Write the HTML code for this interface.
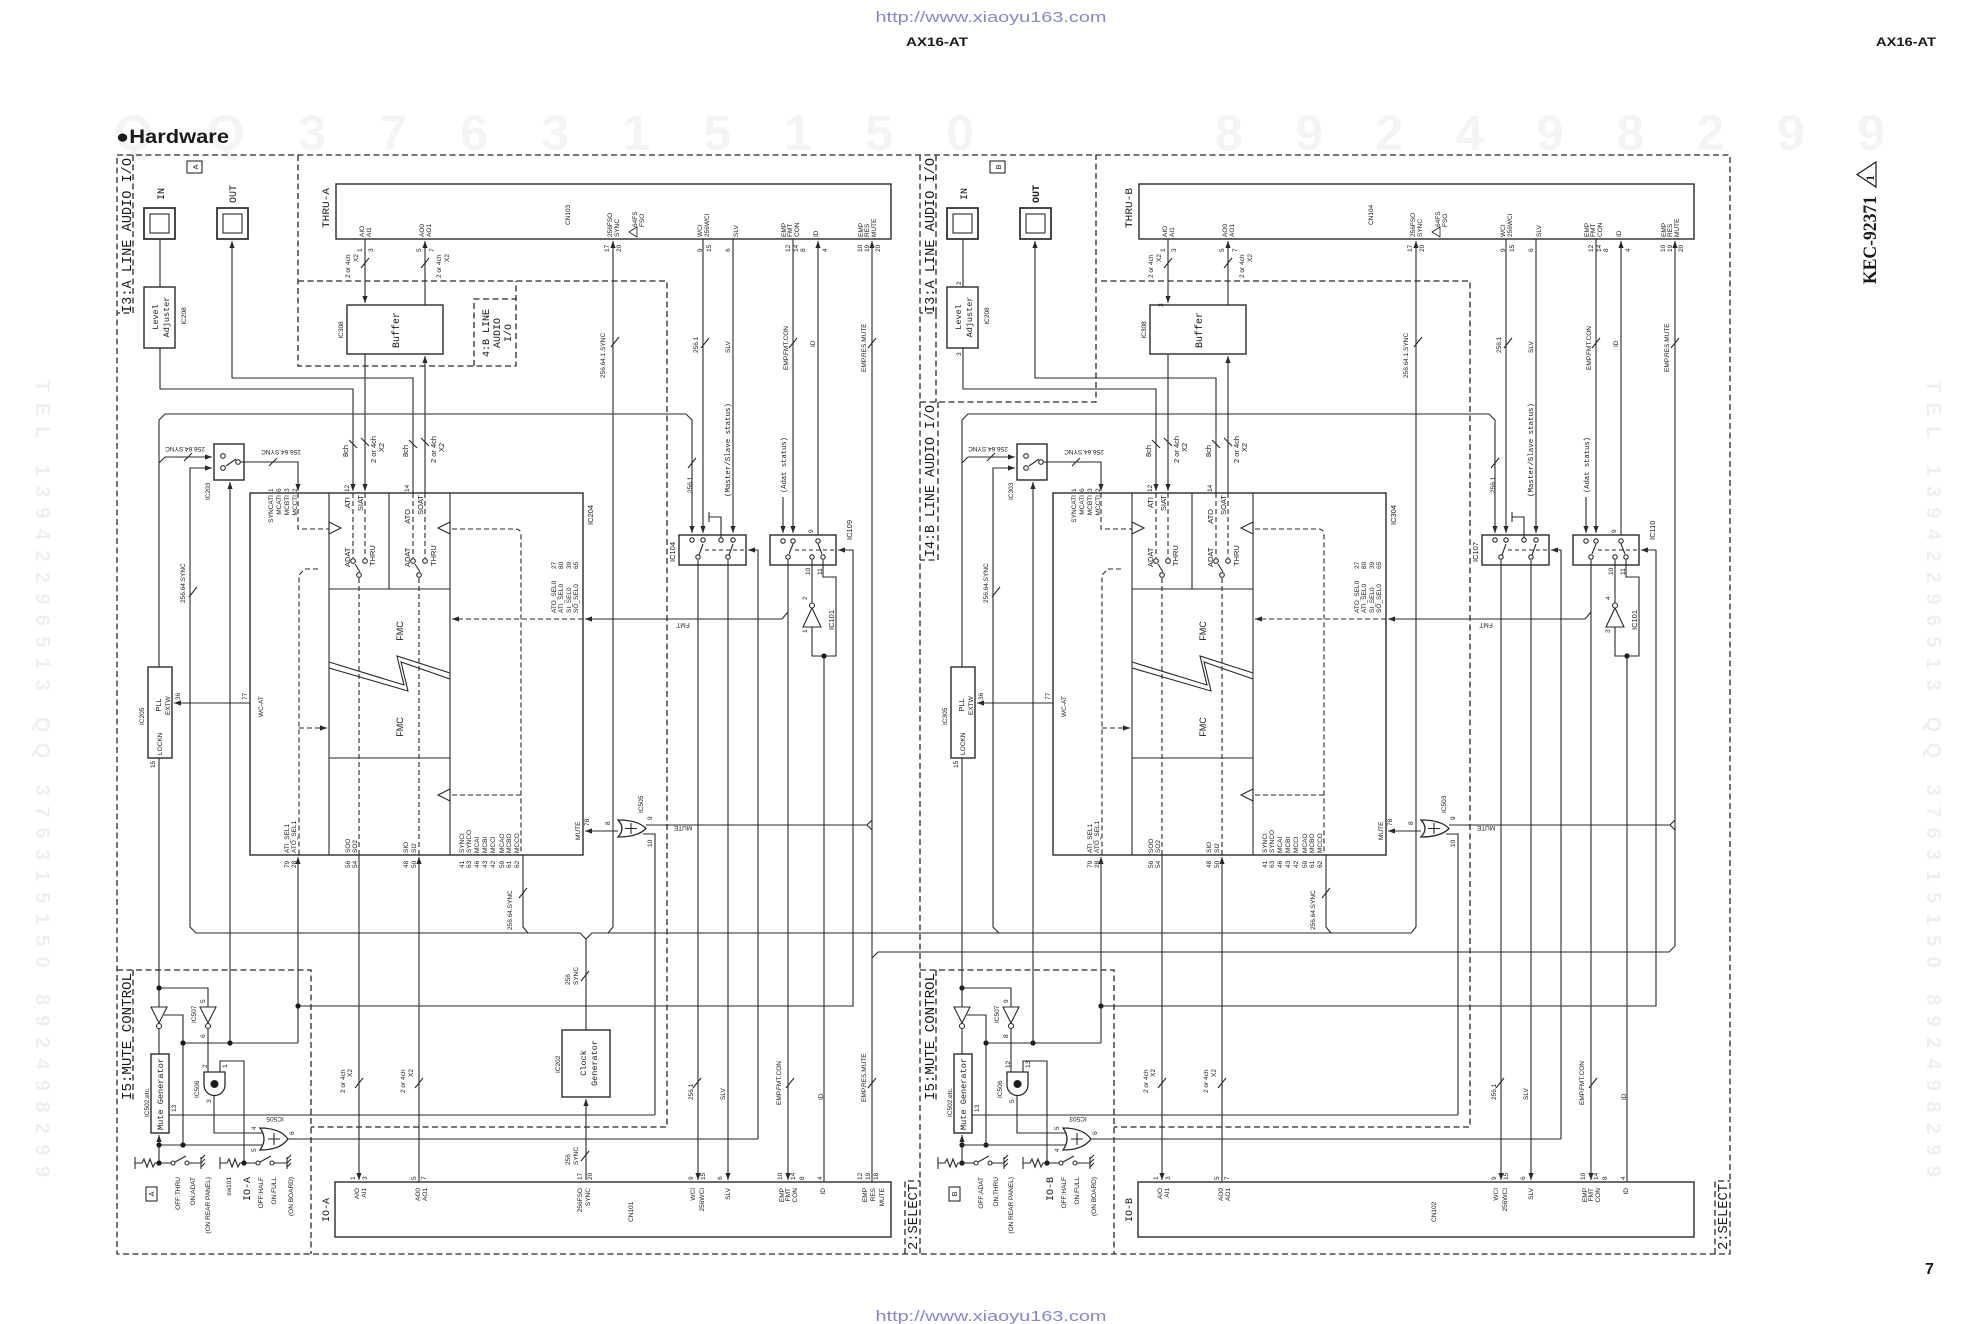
<!DOCTYPE html>
<html><head><meta charset="utf-8">
<style>
html,body{margin:0;padding:0;background:#fff;}
svg{display:block;}
text{fill:#1a1a1a;font-family:"Liberation Sans",sans-serif;}
.s{font-size:6.5px;}
.s7{font-size:7.5px;}
.s9{font-size:9px;}
.m{font-family:"Liberation Mono",monospace;font-size:8.5px;}
.m7{font-family:"Liberation Mono",monospace;font-size:7.4px;}
.m10{font-family:"Liberation Mono",monospace;font-size:10px;}
.L{font-family:"Liberation Mono",monospace;font-size:13.5px;}
</style></head><body>
<svg width="1985" height="1324" viewBox="0 0 1985 1324">
<defs>
<marker id="ar" viewBox="0 0 7 7" refX="7" refY="3.5" markerWidth="7" markerHeight="7" markerUnits="userSpaceOnUse" orient="auto"><path d="M0,0.9L7,3.5L0,6.1z" fill="#2a2a2a"/></marker>
</defs>
<rect width="1985" height="1324" fill="#fff"/>

<!-- faint watermark digits -->
<text x="114" y="150" textLength="860" lengthAdjust="spacing" style="font-size:50px;font-weight:bold;fill:#f4f4f4">Q Q 3 7 6 3 1 5 1 5 0</text>
<text x="1215" y="150" textLength="670" lengthAdjust="spacing" style="font-size:50px;font-weight:bold;fill:#f4f4f4">8 9 2 4 9 8 2 9 9</text>
<g transform="rotate(90)">
<text x="380" y="-36" textLength="797" lengthAdjust="spacing" style="font-size:20px;font-weight:bold;fill:#efefef">TEL 13942296513 QQ 376315150 892498299</text>
<text x="380" y="-1927" textLength="797" lengthAdjust="spacing" style="font-size:20px;font-weight:bold;fill:#efefef">TEL 13942296513 QQ 376315150 892498299</text>
</g>

<!-- headers -->
<text x="991" y="22" text-anchor="middle" textLength="231" lengthAdjust="spacingAndGlyphs" style="font-size:15px;fill:#8585dc">http://www.xiaoyu163.com</text>
<text x="991" y="1321" text-anchor="middle" textLength="231" lengthAdjust="spacingAndGlyphs" style="font-size:15px;fill:#8585dc">http://www.xiaoyu163.com</text>
<text x="906" y="46" font-size="12" font-weight="bold" textLength="62" lengthAdjust="spacingAndGlyphs">AX16-AT</text>
<text x="1876" y="46" font-size="12" font-weight="bold" textLength="60" lengthAdjust="spacingAndGlyphs">AX16-AT</text>
<text x="116" y="143" font-size="19" font-weight="bold" textLength="113" lengthAdjust="spacingAndGlyphs">●Hardware</text>
<text x="1925" y="1274" font-size="16" font-weight="bold">7</text>
<g transform="rotate(-90)">
<text x="-284" y="1876" style="font-family:'Liberation Serif',serif;font-weight:bold;font-size:19px" textLength="88" lengthAdjust="spacingAndGlyphs">KEC-92371</text>
<text x="-178" y="1874" text-anchor="middle" style="font-family:'Liberation Serif',serif;font-weight:bold;font-size:12px">1</text>
</g>
<polygon points="1857,174.5 1876,162 1876,187" fill="none" stroke="#1a1a1a" stroke-width="1.2"/>

<!-- ===== common half geometry ===== -->
<g id="H" fill="none" stroke="#2a2a2a" stroke-width="1.1">
<rect x="187" y="161" width="15" height="12"/>
<rect x="144" y="208" width="31" height="31" stroke-width="1.7"/>
<rect x="150" y="214" width="19" height="19"/>
<rect x="217" y="208" width="31" height="31" stroke-width="1.7"/>
<rect x="223" y="214" width="19" height="19"/>
<rect x="144" y="287" width="31" height="61" stroke-width="1.4"/>
<path d="M160,239V287"/>
<path d="M160,348V389H353V491" marker-end="url(#ar)"/>
<path d="M413,493V378H232V241" marker-end="url(#ar)"/>
<rect x="336" y="184" width="555" height="55" stroke-width="1.4"/>
<rect x="347" y="305" width="96" height="49" stroke-width="1.4"/>
<path d="M365,239V303" marker-end="url(#ar)"/>
<path d="M425,305V241" marker-end="url(#ar)"/>
<path d="M365,354V491" marker-end="url(#ar)"/>
<path d="M425,493V356" marker-end="url(#ar)"/>
<path d="M361,268l8,-10M421,268l8,-10M349,440l8,8M361,438l8,8M409,440l8,8M421,438l8,8"/>
<path d="M611,347l8,-10M701,348l8,-10M789,348l8,-10M868,348l8,-10M688,468l8,-10M189,597l8,-10M519,898l8,-10M184,461l8,-8M269,466l8,-8"/>
<path d="M355,1088l8,-10M415,1088l8,-10M693,1088l8,-10M786,1088l8,-10"/>
<!-- 414 loop -->
<path d="M159,667V420L165,414H686L692,420V533" marker-end="url(#ar)"/>
<!-- IC203 -->
<rect x="214" y="444" width="30" height="36" stroke-width="1.4"/>
<path d="M159,463L165,457H212" marker-end="url(#ar)"/>
<path d="M196,933L190,927V468H212" marker-end="url(#ar)"/>
<path d="M239,462H298V491" marker-end="url(#ar)"/>
<path d="M230,1043V482" marker-end="url(#ar)"/>
<path d="M226,466L236,459"/>
<circle cx="223" cy="456" r="2.3" fill="#fff"/><circle cx="223" cy="468" r="2.3" fill="#fff"/><circle cx="238" cy="462" r="2.3" fill="#fff"/>
<!-- IC204 -->
<rect x="250" y="493" width="333" height="362" stroke-width="1.4"/>
<path d="M329,493V855M389,493V589M450,493V855M329,589H450M329,758H450"/>
<path d="M329,662L404,685L397,656L450,673M329,668L408,691L401,662L450,679"/>
<g stroke-dasharray="5,3">
<path d="M298,493V529H329"/>
<path d="M353,493V558M365,493V558M413,493V558M425,493V558"/>
<path d="M359,578V855M419,578V855"/>
<path d="M318,569H305L299,575V855M299,728H322"/>
<path d="M452,529H515Q521,529 521,535V855M452,795H521"/>
<path d="M583,619H457"/>
</g>
<path d="M322,728h5" marker-end="url(#ar)"/>
<path d="M457,619h-5" marker-end="url(#ar)"/>
<polygon points="329,522 341,528 329,534"/>
<polygon points="450,522 438,528 450,534"/>
<polygon points="450,789 438,795 450,801"/>
<path d="M360,572L355,564M420,572L415,564"/>
<circle cx="353" cy="561" r="2.3" fill="#fff"/><circle cx="365" cy="561" r="2.3" fill="#fff"/><circle cx="359" cy="575" r="2.3" fill="#fff"/>
<circle cx="413" cy="561" r="2.3" fill="#fff"/><circle cx="425" cy="561" r="2.3" fill="#fff"/><circle cx="419" cy="575" r="2.3" fill="#fff"/>
<path d="M359,855V1180" marker-end="url(#ar)"/>
<path d="M419,1182V857" marker-end="url(#ar)"/>
<path d="M523,855V927L528,933"/>
<path d="M613,927V241" marker-end="url(#ar)"/>
<path d="M613,927L608,933"/>
<!-- PLL -->
<rect x="148" y="667" width="24" height="91" stroke-width="1.4"/>
<path d="M250,703H174" marker-end="url(#ar)"/>
<path d="M159,758V1007M159,988H208V1007"/>
<!-- verticals -->
<path d="M703,239V533" marker-end="url(#ar)"/>
<path d="M733,239V533" marker-end="url(#ar)"/>
<path d="M793,239V533" marker-end="url(#ar)"/>
<path d="M818,535V241" marker-end="url(#ar)"/>
<path d="M872,946V241" marker-end="url(#ar)"/>
<path d="M783,497V533" marker-end="url(#ar)"/>
<path d="M698,560V1180" marker-end="url(#ar)"/>
<path d="M728,560V1180" marker-end="url(#ar)"/>
<path d="M788,560V1180" marker-end="url(#ar)"/>
<path d="M824,656V1182"/>
<path d="M758,1139V550H748" marker-end="url(#ar)"/>
<path d="M298,1043V857" marker-end="url(#ar)"/>
<path d="M298,1006H853V550H838" marker-end="url(#ar)"/>
<!-- IC104 -->
<rect x="679" y="535" width="67" height="30" stroke-width="1.4"/>
<path d="M709,512V522M709,517H721V538"/>
<path d="M699,555L703,544M729,555L733,544"/>
<path d="M705,550H744" stroke-dasharray="4,3"/>
<circle cx="692" cy="540" r="2.2" fill="#fff"/><circle cx="703" cy="540" r="2.2" fill="#fff"/><circle cx="721" cy="540" r="2.2" fill="#fff"/><circle cx="733" cy="540" r="2.2" fill="#fff"/>
<circle cx="698" cy="557" r="2.2" fill="#fff"/><circle cx="728" cy="557" r="2.2" fill="#fff"/>
<!-- IC109 -->
<rect x="770" y="535" width="66" height="30" stroke-width="1.4"/>
<path d="M789,554L793,544M822,554L818,544"/>
<path d="M795,550H834" stroke-dasharray="4,3"/>
<circle cx="783" cy="541" r="2.2" fill="#fff"/><circle cx="793" cy="541" r="2.2" fill="#fff"/><circle cx="818" cy="541" r="2.2" fill="#fff"/>
<circle cx="788" cy="557" r="2.2" fill="#fff"/><circle cx="812" cy="557" r="2.2" fill="#fff"/><circle cx="823" cy="557" r="2.2" fill="#fff"/>
<!-- IC101 -->
<path d="M812,560V603M812,627V656H836V577H823V560"/>
<polygon points="812,608 803,627 821,627"/>
<circle cx="812" cy="605.5" r="2.5" fill="#fff"/>
<path d="M788,612L782,619H585" marker-end="url(#ar)"/>
<!-- IC505 gate -->
<path d="M618,820Q626,828.5 618,837Q638,837 646,828.5Q638,820 618,820Z" stroke-width="1.3"/>
<path d="M625,828.5H637M631,823V834"/>
<path d="M618,831H585" marker-end="url(#ar)"/>
<path d="M646,825H867M867,825L872,820M867,825L872,830"/>
<path d="M643,834H655V1115"/>
<!-- mute control -->
<polygon points="151,1007 167,1007 159,1023"/>
<circle cx="159" cy="1026" r="2.5" fill="#fff"/>
<polygon points="200,1007 216,1007 208,1023"/>
<circle cx="208" cy="1026" r="2.5" fill="#fff"/>
<path d="M159,1029V1054"/>
<path d="M164,1015H183V1145"/>
<path d="M208,1029V1072"/>
<path d="M220,1072V1061H244V1163"/>
<path d="M204,1072H225V1085A10.5,10.5 0 0 1 204,1085Z" stroke-width="1.3"/>
<circle cx="214.5" cy="1084" r="3.5" fill="#1a1a1a"/>
<path d="M214,1096V1133H262"/>
<rect x="151" y="1054" width="18" height="79" stroke-width="1.4"/>
<path d="M159,1145V1135" marker-end="url(#ar)"/>
<path d="M159,1145H262M159,1145V1163"/>
<path d="M169,1115H655"/>
<path d="M260,1128Q268,1139 260,1150Q280,1150 288,1139Q280,1128 260,1128Z" stroke-width="1.3"/>
<path d="M268,1139H280M274,1133V1145"/>
<path d="M288,1139H758"/>
<path d="M298,1043H183"/>
<!-- switches -->
<path d="M135,1157V1169M135,1163H142l2,-4l3,8l3,-8l3,8l2,-4H171M175,1162L186,1156M189,1163H201M201,1157V1169M201,1159l4,-4M201,1163l4,-4M201,1167l4,-4"/>
<circle cx="173" cy="1163" r="2" fill="#fff"/><circle cx="187" cy="1163" r="2" fill="#fff"/>
<path d="M220,1157V1169M220,1163H227l2,-4l3,8l3,-8l3,8l2,-4H256M260,1162L271,1156M274,1163H287M287,1157V1169M287,1159l4,-4M287,1163l4,-4M287,1167l4,-4"/>
<circle cx="258" cy="1163" r="2" fill="#fff"/><circle cx="272" cy="1163" r="2" fill="#fff"/>
<rect x="146" y="1187" width="11" height="14"/>
<!-- CN bottom -->
<rect x="335" y="1182" width="556" height="55" stroke-width="1.4"/>
<!-- dashed -->
<g stroke-dasharray="6,3.5" stroke-width="1.3">
<path d="M133,155V313H117"/>
<path d="M298,281H667V1127H311"/>
<path d="M117,970H311V1254"/>
<path d="M133,970V1100"/>
</g>
</g>
<g fill="#1a1a1a">
<circle cx="159" cy="988" r="2.6"/><circle cx="298" cy="1006" r="2.6"/><circle cx="230" cy="1043" r="2.6"/><circle cx="183" cy="1043" r="2.6"/>
<circle cx="159" cy="1145" r="2.6"/><circle cx="183" cy="1145" r="2.6"/><circle cx="159" cy="1163" r="2.6"/><circle cx="244" cy="1163" r="2.6"/><circle cx="824" cy="656" r="2.6"/>
<circle cx="962" cy="988" r="2.6"/><circle cx="1101" cy="1006" r="2.6"/><circle cx="1033" cy="1043" r="2.6"/><circle cx="986" cy="1043" r="2.6"/>
<circle cx="962" cy="1145" r="2.6"/><circle cx="986" cy="1145" r="2.6"/><circle cx="962" cy="1163" r="2.6"/><circle cx="1047" cy="1163" r="2.6"/><circle cx="1627" cy="656" r="2.6"/>
</g>
<use href="#H" x="803" y="0"/>

<!-- left-only / right-only / global geometry -->
<g fill="none" stroke="#2a2a2a" stroke-width="1.1">
<rect x="562" y="1030" width="48" height="67" stroke-width="1.4"/>
<path d="M586,939V1030"/>
<path d="M586,1180V1099" marker-end="url(#ar)"/>
<path d="M581,981l8,-10M581,1161l8,-10M868,1088l8,-10"/>
<path d="M872,946V1182M872,958L878,952"/>
<path d="M196,933H580L586,939L592,933H1411"/>
<path d="M878,952H1669L1675,946"/>
<g stroke-dasharray="6,3.5" stroke-width="1.3">
<rect x="117" y="155" width="1613" height="1099"/>
<path d="M920,155V1254"/>
<path d="M298,155V366H516V281M474,366V299H516"/>
<path d="M936,313V402M920,402H1096V155M938,402V560H920"/>
<path d="M905,1254V1181H920M1715,1254V1181H1730"/>
</g>
</g>

<!-- ===== common rotated text (left) ===== -->
<g transform="rotate(-90)">
<text class="L" x="-313" y="131" textLength="155" lengthAdjust="spacingAndGlyphs">I3:A LINE AUDIO I/O</text>
<text class="L" x="-1100" y="131" textLength="127" lengthAdjust="spacingAndGlyphs">I5:MUTE CONTROL</text>
<text class="m10" x="-200" y="164">IN</text>
<text class="m10" x="-203" y="236">OUT</text>
<text class="m" x="-317" y="158" text-anchor="middle">Level</text>
<text class="m" x="-317" y="169" text-anchor="middle">Adjuster</text>
<text class="s" x="-316" y="186" text-anchor="middle">IC208</text>
<text class="m10" x="-330" y="399" text-anchor="middle">Buffer</text>
<text class="s" x="-330" y="343" text-anchor="middle">IC308</text>
<text class="s" x="-237" y="364">AIO</text><text class="s" x="-237" y="371">AI1</text>
<text class="s" x="-237" y="424">AO0</text><text class="s" x="-237" y="431">AO1</text>
<text class="s" x="-237" y="612">256FSO</text><text class="s" x="-237" y="619">SYNC</text>
<text class="s" x="-227" y="637">64FS</text><text class="s" x="-227" y="644">FSO</text>
<text class="s" x="-237" y="702">WCI</text><text class="s" x="-237" y="709">256WCI</text>
<text class="s" x="-237" y="738">SLV</text>
<text class="s" x="-237" y="786">EMP</text><text class="s" x="-237" y="792">FMT</text><text class="s" x="-237" y="799">CON</text>
<text class="s" x="-237" y="818">ID</text>
<text class="s" x="-237" y="863">EMP</text><text class="s" x="-237" y="869">RES</text><text class="s" x="-237" y="876">MUTE</text>
<text class="s" x="-252" y="362">1</text><text class="s" x="-252" y="373">3</text>
<text class="s" x="-252" y="421">5</text><text class="s" x="-252" y="434">7</text>
<text class="s" x="-252" y="609">17</text><text class="s" x="-252" y="621">20</text>
<text class="s" x="-252" y="702">9</text><text class="s" x="-252" y="711">15</text>
<text class="s" x="-252" y="730">6</text>
<text class="s" x="-252" y="790">12</text><text class="s" x="-252" y="798">14</text><text class="s" x="-252" y="805">8</text>
<text class="s" x="-252" y="827">4</text>
<text class="s" x="-252" y="862">10</text><text class="s" x="-252" y="869">19</text><text class="s" x="-252" y="880">20</text>
<text class="s" x="-278" y="350">2 or 4ch</text><text class="s" x="-262" y="358">X2</text>
<text class="s" x="-278" y="441">2 or 4ch</text><text class="s" x="-262" y="449">X2</text>
<text class="s" x="-378" y="605">256.64.1.SYNC</text>
<text class="s" x="-353" y="698">256.1</text>
<text class="s" x="-353" y="730">SLV</text>
<text class="s" x="-370" y="788">EMP.FMT.CON</text>
<text class="s" x="-347" y="815">ID</text>
<text class="s" x="-372" y="866">EMP.RES.MUTE</text>
<text class="s" x="-493" y="692">256.1</text>
<text class="m7" x="-497" y="730" textLength="94" lengthAdjust="spacingAndGlyphs">(Master/Slave status)</text>
<text class="m7" x="-493" y="786" textLength="56" lengthAdjust="spacingAndGlyphs">(Adat status)</text>
<text class="s7" x="-457" y="348">8ch</text><text class="s7" x="-463" y="376">2 or 4ch</text><text class="s7" x="-452" y="384">X2</text>
<text class="s7" x="-457" y="408">8ch</text><text class="s7" x="-463" y="436">2 or 4ch</text><text class="s7" x="-452" y="444">X2</text>
<text class="s" x="-603" y="185">256.64.SYNC</text>
<text class="s" x="-492" y="273">1</text><text class="s" x="-492" y="281">6</text><text class="s" x="-492" y="289">3</text><text class="s" x="-492" y="297">2</text>
<text class="s" x="-495" y="273" text-anchor="end">SYNCATI</text>
<text class="s" x="-495" y="281" text-anchor="end">MCATI</text>
<text class="s" x="-495" y="289" text-anchor="end">MCBTI</text>
<text class="s" x="-495" y="297" text-anchor="end">MCCTI</text>
<text class="s" x="-492" y="349">12</text><text class="s7" x="-497" y="350" text-anchor="end">ATI</text><text class="s7" x="-495" y="363" text-anchor="end">SIAT</text>
<text class="s" x="-492" y="409">14</text><text class="s7" x="-509" y="410" text-anchor="end">ATO</text><text class="s7" x="-495" y="423" text-anchor="end">SOAT</text>
<text class="s7" x="-567" y="350">ADAT</text><text class="s7" x="-566" y="375">THRU</text>
<text class="s7" x="-567" y="410">ADAT</text><text class="s7" x="-566" y="436">THRU</text>
<text class="s9" x="-631" y="403" text-anchor="middle">FMC</text>
<text class="s9" x="-727" y="403" text-anchor="middle">FMC</text>
<text class="s" x="-613" y="556">ATO_SEL0</text><text class="s" x="-613" y="563">ATI_SEL0</text><text class="s" x="-613" y="571">SI_SEL0</text><text class="s" x="-613" y="578">SO_SEL0</text>
<text class="s" x="-569" y="556">27</text><text class="s" x="-569" y="563">80</text><text class="s" x="-569" y="571">39</text><text class="s" x="-569" y="578">65</text>
<text class="s" x="-840" y="580">MUTE</text><text class="s" x="-826" y="589">78</text>
<text class="s" x="-717" y="263">WC-AT</text><text class="s" x="-700" y="247">77</text>
<text class="s7" x="-705" y="161" text-anchor="middle">PLL</text>
<text class="s" x="-715" y="170">EXTW</text><text class="s" x="-700" y="180">36</text>
<text class="s" x="-755" y="162">LOCKN</text><text class="s" x="-768" y="155">15</text>
<text class="s" x="-853" y="289">ATI_SEL1</text><text class="s" x="-853" y="296">ATO_SEL1</text>
<text class="s" x="-853" y="350">SOO</text><text class="s" x="-853" y="357">SO2</text>
<text class="s" x="-853" y="408">SIO</text><text class="s" x="-853" y="416">SI2</text>
<text class="s" x="-853" y="464">SYNCI</text><text class="s" x="-853" y="471">SYNCO</text><text class="s" x="-853" y="479">MCAI</text><text class="s" x="-853" y="487">MCBI</text>
<text class="s" x="-853" y="495">MCCI</text><text class="s" x="-853" y="504">MCAO</text><text class="s" x="-853" y="511">MCBO</text><text class="s" x="-853" y="519">MCCO</text>
<text class="s" x="-868" y="289">79</text><text class="s" x="-868" y="296">28</text>
<text class="s" x="-868" y="350">56</text><text class="s" x="-868" y="357">54</text>
<text class="s" x="-868" y="408">48</text><text class="s" x="-868" y="416">50</text>
<text class="s" x="-868" y="464">41</text><text class="s" x="-868" y="471">63</text><text class="s" x="-868" y="479">46</text><text class="s" x="-868" y="487">43</text>
<text class="s" x="-868" y="495">42</text><text class="s" x="-868" y="504">59</text><text class="s" x="-868" y="511">61</text><text class="s" x="-868" y="519">62</text>
<text class="s" x="-930" y="512">256.64.SYNC</text>
<text class="s" x="-825" y="610">8</text><text class="s" x="-820" y="652">9</text><text class="s" x="-847" y="652">10</text>
<text class="s7" x="-630" y="834">IC101</text>
<text class="s" x="-575" y="810">10</text><text class="s" x="-575" y="822">11</text>
<text class="s" x="-533" y="813">9</text>
<text class="s" x="-1023" y="196">IC507</text>
<text class="s" x="-1117" y="149">IC502.etc.</text>
<text class="m" x="-1130" y="163" textLength="72" lengthAdjust="spacingAndGlyphs">Mute Generator</text>
<text class="s" x="-1112" y="176">13</text>
<text class="s" x="-1098" y="199">IC506</text>
<text class="s" x="-1093" y="345">2 or 4ch</text><text class="s" x="-1077" y="352">X2</text>
<text class="s" x="-1093" y="405">2 or 4ch</text><text class="s" x="-1077" y="413">X2</text>
<text class="s" x="-1100" y="693">256.1</text>
<text class="s" x="-1100" y="725">SLV</text>
<text class="s" x="-1105" y="781">EMP.FMT.CON</text>
<text class="s" x="-1100" y="823">ID</text>
<text class="s" x="-1180" y="355">1</text><text class="s" x="-1180" y="367">3</text>
<text class="s" x="-1180" y="416">5</text><text class="s" x="-1180" y="426">7</text>
<text class="s" x="-1180" y="693">9</text><text class="s" x="-1180" y="705">15</text>
<text class="s" x="-1180" y="722">6</text>
<text class="s" x="-1180" y="782">10</text><text class="s" x="-1180" y="795">14</text><text class="s" x="-1180" y="804">8</text>
<text class="s" x="-1180" y="822">4</text>
<text class="s" x="-1188" y="359" text-anchor="end">AIO</text><text class="s" x="-1188" y="366" text-anchor="end">AI1</text>
<text class="s" x="-1188" y="420" text-anchor="end">AO0</text><text class="s" x="-1188" y="427" text-anchor="end">AO1</text>
<text class="s" x="-1188" y="695" text-anchor="end">WCI</text><text class="s" x="-1188" y="704" text-anchor="end">256WCI</text>
<text class="s" x="-1188" y="730" text-anchor="end">SLV</text>
<text class="s" x="-1188" y="784" text-anchor="end">EMP</text><text class="s" x="-1188" y="790" text-anchor="end">FMT</text><text class="s" x="-1188" y="797" text-anchor="end">CON</text>
<text class="s" x="-1188" y="825" text-anchor="end">ID</text>
<text class="s" x="-1177" y="293" text-anchor="end">(ON BOARD)</text>
<text class="s" x="-1177" y="276" text-anchor="end">ON:FULL</text>
<text class="s" x="-1177" y="263" text-anchor="end">OFF:HALF</text>
<text class="s" x="-1177" y="210" text-anchor="end">(ON REAR PANEL)</text>
</g>

<!-- common rotated text (right copy) -->
<g transform="translate(803,0) rotate(-90)">
<text class="L" x="-313" y="131" textLength="155" lengthAdjust="spacingAndGlyphs">I3:A LINE AUDIO I/O</text>
<text class="L" x="-1100" y="131" textLength="127" lengthAdjust="spacingAndGlyphs">I5:MUTE CONTROL</text>
<text class="m10" x="-200" y="164">IN</text>
<text class="m10" x="-203" y="236" font-weight="bold">OUT</text>
<text class="m" x="-317" y="158" text-anchor="middle">Level</text>
<text class="m" x="-317" y="169" text-anchor="middle">Adjuster</text>
<text class="s" x="-316" y="186" text-anchor="middle">IC208</text>
<text class="m10" x="-330" y="399" text-anchor="middle">Buffer</text>
<text class="s" x="-330" y="343" text-anchor="middle">IC308</text>
<text class="s" x="-237" y="364">AIO</text><text class="s" x="-237" y="371">AI1</text>
<text class="s" x="-237" y="424">AO0</text><text class="s" x="-237" y="431">AO1</text>
<text class="s" x="-237" y="612">256FSO</text><text class="s" x="-237" y="619">SYNC</text>
<text class="s" x="-227" y="637">64FS</text><text class="s" x="-227" y="644">FSO</text>
<text class="s" x="-237" y="702">WCI</text><text class="s" x="-237" y="709">256WCI</text>
<text class="s" x="-237" y="738">SLV</text>
<text class="s" x="-237" y="786">EMP</text><text class="s" x="-237" y="792">FMT</text><text class="s" x="-237" y="799">CON</text>
<text class="s" x="-237" y="818">ID</text>
<text class="s" x="-237" y="863">EMP</text><text class="s" x="-237" y="869">RES</text><text class="s" x="-237" y="876">MUTE</text>
<text class="s" x="-252" y="362">1</text><text class="s" x="-252" y="373">3</text>
<text class="s" x="-252" y="421">5</text><text class="s" x="-252" y="434">7</text>
<text class="s" x="-252" y="609">17</text><text class="s" x="-252" y="621">20</text>
<text class="s" x="-252" y="702">9</text><text class="s" x="-252" y="711">15</text>
<text class="s" x="-252" y="730">6</text>
<text class="s" x="-252" y="790">12</text><text class="s" x="-252" y="798">14</text><text class="s" x="-252" y="805">8</text>
<text class="s" x="-252" y="827">4</text>
<text class="s" x="-252" y="862">10</text><text class="s" x="-252" y="869">19</text><text class="s" x="-252" y="880">20</text>
<text class="s" x="-278" y="350">2 or 4ch</text><text class="s" x="-262" y="358">X2</text>
<text class="s" x="-278" y="441">2 or 4ch</text><text class="s" x="-262" y="449">X2</text>
<text class="s" x="-378" y="605">256.64.1.SYNC</text>
<text class="s" x="-353" y="698">256.1</text>
<text class="s" x="-353" y="730">SLV</text>
<text class="s" x="-370" y="788">EMP.FMT.CON</text>
<text class="s" x="-347" y="815">ID</text>
<text class="s" x="-372" y="866">EMP.RES.MUTE</text>
<text class="s" x="-493" y="692">256.1</text>
<text class="m7" x="-497" y="730" textLength="94" lengthAdjust="spacingAndGlyphs">(Master/Slave status)</text>
<text class="m7" x="-493" y="786" textLength="56" lengthAdjust="spacingAndGlyphs">(Adat status)</text>
<text class="s7" x="-457" y="348">8ch</text><text class="s7" x="-463" y="376">2 or 4ch</text><text class="s7" x="-452" y="384">X2</text>
<text class="s7" x="-457" y="408">8ch</text><text class="s7" x="-463" y="436">2 or 4ch</text><text class="s7" x="-452" y="444">X2</text>
<text class="s" x="-603" y="185">256.64.SYNC</text>
<text class="s" x="-492" y="273">1</text><text class="s" x="-492" y="281">6</text><text class="s" x="-492" y="289">3</text><text class="s" x="-492" y="297">2</text>
<text class="s" x="-495" y="273" text-anchor="end">SYNCATI</text>
<text class="s" x="-495" y="281" text-anchor="end">MCATI</text>
<text class="s" x="-495" y="289" text-anchor="end">MCBTI</text>
<text class="s" x="-495" y="297" text-anchor="end">MCCTI</text>
<text class="s" x="-492" y="349">12</text><text class="s7" x="-497" y="350" text-anchor="end">ATI</text><text class="s7" x="-495" y="363" text-anchor="end">SIAT</text>
<text class="s" x="-492" y="409">14</text><text class="s7" x="-509" y="410" text-anchor="end">ATO</text><text class="s7" x="-495" y="423" text-anchor="end">SOAT</text>
<text class="s7" x="-567" y="350">ADAT</text><text class="s7" x="-566" y="375">THRU</text>
<text class="s7" x="-567" y="410">ADAT</text><text class="s7" x="-566" y="436">THRU</text>
<text class="s9" x="-631" y="403" text-anchor="middle">FMC</text>
<text class="s9" x="-727" y="403" text-anchor="middle">FMC</text>
<text class="s" x="-613" y="556">ATO_SEL0</text><text class="s" x="-613" y="563">ATI_SEL0</text><text class="s" x="-613" y="571">SI_SEL0</text><text class="s" x="-613" y="578">SO_SEL0</text>
<text class="s" x="-569" y="556">27</text><text class="s" x="-569" y="563">80</text><text class="s" x="-569" y="571">39</text><text class="s" x="-569" y="578">65</text>
<text class="s" x="-840" y="580">MUTE</text><text class="s" x="-826" y="589">78</text>
<text class="s" x="-717" y="263">WC-AT</text><text class="s" x="-700" y="247">77</text>
<text class="s7" x="-705" y="161" text-anchor="middle">PLL</text>
<text class="s" x="-715" y="170">EXTW</text><text class="s" x="-700" y="180">36</text>
<text class="s" x="-755" y="162">LOCKN</text><text class="s" x="-768" y="155">15</text>
<text class="s" x="-853" y="289">ATI_SEL1</text><text class="s" x="-853" y="296">ATO_SEL1</text>
<text class="s" x="-853" y="350">SOO</text><text class="s" x="-853" y="357">SO2</text>
<text class="s" x="-853" y="408">SIO</text><text class="s" x="-853" y="416">SI2</text>
<text class="s" x="-853" y="464">SYNCI</text><text class="s" x="-853" y="471">SYNCO</text><text class="s" x="-853" y="479">MCAI</text><text class="s" x="-853" y="487">MCBI</text>
<text class="s" x="-853" y="495">MCCI</text><text class="s" x="-853" y="504">MCAO</text><text class="s" x="-853" y="511">MCBO</text><text class="s" x="-853" y="519">MCCO</text>
<text class="s" x="-868" y="289">79</text><text class="s" x="-868" y="296">28</text>
<text class="s" x="-868" y="350">56</text><text class="s" x="-868" y="357">54</text>
<text class="s" x="-868" y="408">48</text><text class="s" x="-868" y="416">50</text>
<text class="s" x="-868" y="464">41</text><text class="s" x="-868" y="471">63</text><text class="s" x="-868" y="479">46</text><text class="s" x="-868" y="487">43</text>
<text class="s" x="-868" y="495">42</text><text class="s" x="-868" y="504">59</text><text class="s" x="-868" y="511">61</text><text class="s" x="-868" y="519">62</text>
<text class="s" x="-930" y="512">256.64.SYNC</text>
<text class="s" x="-825" y="610">8</text><text class="s" x="-820" y="652">9</text><text class="s" x="-847" y="652">10</text>
<text class="s7" x="-630" y="834">IC101</text>
<text class="s" x="-575" y="810">10</text><text class="s" x="-575" y="822">11</text>
<text class="s" x="-533" y="813">9</text>
<text class="s" x="-1023" y="196">IC507</text>
<text class="s" x="-1117" y="149">IC502.etc.</text>
<text class="m" x="-1130" y="163" textLength="72" lengthAdjust="spacingAndGlyphs">Mute Generator</text>
<text class="s" x="-1112" y="176">13</text>
<text class="s" x="-1098" y="199">IC506</text>
<text class="s" x="-1093" y="345">2 or 4ch</text><text class="s" x="-1077" y="352">X2</text>
<text class="s" x="-1093" y="405">2 or 4ch</text><text class="s" x="-1077" y="413">X2</text>
<text class="s" x="-1100" y="693">256.1</text>
<text class="s" x="-1100" y="725">SLV</text>
<text class="s" x="-1105" y="781">EMP.FMT.CON</text>
<text class="s" x="-1100" y="823">ID</text>
<text class="s" x="-1180" y="355">1</text><text class="s" x="-1180" y="367">3</text>
<text class="s" x="-1180" y="416">5</text><text class="s" x="-1180" y="426">7</text>
<text class="s" x="-1180" y="693">9</text><text class="s" x="-1180" y="705">15</text>
<text class="s" x="-1180" y="722">6</text>
<text class="s" x="-1180" y="782">10</text><text class="s" x="-1180" y="795">14</text><text class="s" x="-1180" y="804">8</text>
<text class="s" x="-1180" y="822">4</text>
<text class="s" x="-1188" y="359" text-anchor="end">AIO</text><text class="s" x="-1188" y="366" text-anchor="end">AI1</text>
<text class="s" x="-1188" y="420" text-anchor="end">AO0</text><text class="s" x="-1188" y="427" text-anchor="end">AO1</text>
<text class="s" x="-1188" y="695" text-anchor="end">WCI</text><text class="s" x="-1188" y="704" text-anchor="end">256WCI</text>
<text class="s" x="-1188" y="730" text-anchor="end">SLV</text>
<text class="s" x="-1188" y="784" text-anchor="end">EMP</text><text class="s" x="-1188" y="790" text-anchor="end">FMT</text><text class="s" x="-1188" y="797" text-anchor="end">CON</text>
<text class="s" x="-1188" y="825" text-anchor="end">ID</text>
<text class="s" x="-1177" y="293" text-anchor="end">(ON BOARD)</text>
<text class="s" x="-1177" y="276" text-anchor="end">ON:FULL</text>
<text class="s" x="-1177" y="263" text-anchor="end">OFF:HALF</text>
<text class="s" x="-1177" y="210" text-anchor="end">(ON REAR PANEL)</text>
</g>

<!-- left-only rotated text -->
<g transform="rotate(-90)">
<text class="s7" x="-167" y="198" text-anchor="middle">A</text>
<text class="m10" x="-228" y="329" textLength="40" lengthAdjust="spacingAndGlyphs">THRU-A</text>
<text class="s" x="-225" y="570">CN103</text>
<text class="m10" x="-333" y="489" text-anchor="middle">4:B LINE</text>
<text class="m10" x="-333" y="500" text-anchor="middle">AUDIO</text>
<text class="m10" x="-333" y="511" text-anchor="middle">I/O</text>
<text class="s" x="-500" y="210">IC203</text>
<text class="s7" x="-525" y="593">IC204</text>
<text class="s" x="-725" y="144">IC205</text>
<text class="s7" x="-562" y="675">IC104</text>
<text class="s7" x="-540" y="852">IC109</text>
<text class="s" x="-813" y="643">IC505</text>
<text class="s" x="-600" y="807">2</text><text class="s" x="-633" y="807">1</text>
<text class="s" x="-1003" y="205">5</text><text class="s" x="-1038" y="205">6</text>
<text class="s" x="-1068" y="207">2</text><text class="s" x="-1068" y="227">1</text><text class="s" x="-1103" y="211">3</text>
<text class="s" x="-1130" y="256">4</text><text class="s" x="-1152" y="256">5</text><text class="s" x="-1135" y="294">6</text>
<text class="s" x="-985" y="570">256</text><text class="s" x="-985" y="578">SYNC</text>
<text class="s" x="-1165" y="570">256</text><text class="s" x="-1165" y="578">SYNC</text>
<text class="s" x="-1073" y="560">IC202</text>
<text class="m" x="-1063" y="586" text-anchor="middle">Clock</text>
<text class="m" x="-1063" y="597" text-anchor="middle">Generator</text>
<text class="s" x="-1102" y="866">EMP.RES.MUTE</text>
<text class="s" x="-1180" y="582">17</text><text class="s" x="-1180" y="592">20</text>
<text class="s" x="-1180" y="862">12</text><text class="s" x="-1180" y="870">19</text><text class="s" x="-1180" y="878">18</text>
<text class="s" x="-1188" y="582" text-anchor="end">256FSO</text><text class="s" x="-1188" y="590" text-anchor="end">SYNC</text>
<text class="s" x="-1188" y="867" text-anchor="end">EMP</text><text class="s" x="-1188" y="875" text-anchor="end">RES</text><text class="s" x="-1188" y="884" text-anchor="end">MUTE</text>
<text class="s" x="-1222" y="633">CN101</text>
<text class="m10" x="-1222" y="329">IO-A</text>
<text class="s7" x="-1194" y="154" text-anchor="middle">A</text>
<text class="s" x="-1177" y="180" text-anchor="end">OFF:THRU</text>
<text class="s" x="-1177" y="195" text-anchor="end">ON:ADAT</text>
<text class="s" x="-1177" y="231" text-anchor="end">sw101</text>
<text class="m10" x="-1177" y="250" text-anchor="end">IO-A</text>
<text class="L" x="-1250" y="917" textLength="66" lengthAdjust="spacingAndGlyphs">2:SELECT</text>
</g>

<!-- right-only rotated text -->
<g transform="rotate(-90)">
<text class="s7" x="-167" y="1001" text-anchor="middle">B</text>
<text class="m10" x="-228" y="1132" textLength="40" lengthAdjust="spacingAndGlyphs">THRU-B</text>
<text class="s" x="-225" y="1373">CN104</text>
<text class="L" x="-557" y="934" textLength="152" lengthAdjust="spacingAndGlyphs">I4:B LINE AUDIO I/O</text>
<text class="s" x="-285" y="961">2</text><text class="s" x="-356" y="961">3</text>
<text class="s" x="-307" y="1163">3</text>
<text class="s" x="-500" y="1013">IC303</text>
<text class="s7" x="-525" y="1396">IC304</text>
<text class="s" x="-725" y="947">IC305</text>
<text class="s7" x="-562" y="1478">IC107</text>
<text class="s7" x="-540" y="1655">IC110</text>
<text class="s" x="-813" y="1446">IC503</text>
<text class="s" x="-600" y="1610">4</text><text class="s" x="-633" y="1610">3</text>
<text class="s" x="-1003" y="1008">9</text><text class="s" x="-1038" y="1008">8</text>
<text class="s" x="-1068" y="1010">12</text><text class="s" x="-1068" y="1030">13</text><text class="s" x="-1103" y="1014">5</text>
<text class="s" x="-1130" y="1059">5</text><text class="s" x="-1152" y="1059">4</text><text class="s" x="-1135" y="1097">6</text>
<text class="s" x="-1222" y="1436">CN102</text>
<text class="m10" x="-1222" y="1132">IO-B</text>
<text class="s7" x="-1194" y="957" text-anchor="middle">B</text>
<text class="s" x="-1177" y="983" text-anchor="end">OFF:ADAT</text>
<text class="s" x="-1177" y="998" text-anchor="end">ON:THRU</text>
<text class="m10" x="-1177" y="1053" text-anchor="end">IO-B</text>
<text class="L" x="-1250" y="1727" textLength="66" lengthAdjust="spacingAndGlyphs">2:SELECT</text>
</g>

<!-- upside-down texts -->
<g class="s">
<text x="185" y="447" text-anchor="middle" transform="rotate(180 185 447)">256.64.SYNC</text>
<text x="281" y="450" text-anchor="middle" transform="rotate(180 281 450)">256.64.SYNC</text>
<text x="683" y="623" text-anchor="middle" transform="rotate(180 683 623)">FMT</text>
<text x="683" y="826" text-anchor="middle" transform="rotate(180 683 826)">MUTE</text>
<text x="275" y="1117" text-anchor="middle" transform="rotate(180 275 1117)">IC505</text>
<text x="988" y="447" text-anchor="middle" transform="rotate(180 988 447)">256.64.SYNC</text>
<text x="1084" y="450" text-anchor="middle" transform="rotate(180 1084 450)">256.64.SYNC</text>
<text x="1486" y="623" text-anchor="middle" transform="rotate(180 1486 623)">FMT</text>
<text x="1486" y="826" text-anchor="middle" transform="rotate(180 1486 826)">MUTE</text>
<text x="1078" y="1117" text-anchor="middle" transform="rotate(180 1078 1117)">IC503</text>
</g>
<polygon points="629,232 637,227 637,237" fill="none" stroke="#1a1a1a" stroke-width="0.8"/>
<polygon points="1432,232 1440,227 1440,237" fill="none" stroke="#1a1a1a" stroke-width="0.8"/>
</svg>
</body></html>
